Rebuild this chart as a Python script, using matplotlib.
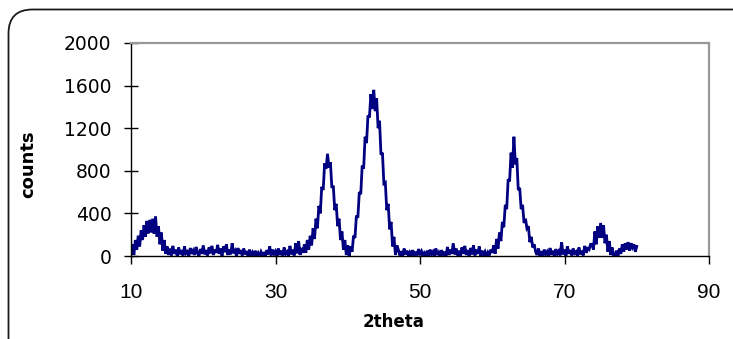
import numpy as np
import matplotlib
matplotlib.use("Agg")
import matplotlib.pyplot as plt
from matplotlib.patches import FancyBboxPatch
from matplotlib.transforms import IdentityTransform

STEP = 0.2  # 2theta step of the scan (degrees)

# Each segment: (start 2theta, counts every STEP degrees)
hump_13 = (10.0, [20, 110, 10, 150, 60, 190, 90, 240, 150, 290, 180, 330, 210, 340,
                  220, 350, 210, 370, 180, 280, 110, 220, 50, 150, 20, 90])
bg_15_34 = (15.2, [10, 70, 5, 95,
                   20, 60, 0, 80, 15,
                   55, 5, 90, 25, 40,
                   0, 75, 20, 50, 10,
                   85, 30, 0, 65, 20,
                   100, 15, 55, 5, 80,
                   25, 95, 10, 60, 30,
                   105, 20, 70, 0, 90,
                   35, 110, 10, 60, 15,
                   120, 25, 50, 0, 75,
                   20, 55, 5, 70, 15,
                   45, 0, 60, 10, 35,
                   0, 50, 5, 30, 0,
                   40, 10, 25, 0, 55,
                   15, 90, 5, 60, 20,
                   45, 0, 70, 10, 50,
                   5, 80, 20, 40, 0,
                   95, 15, 60, 5, 120,
                   25, 140, 10, 75, 30,
                   110])
peak_37 = (34.2, [30, 150, 60, 190, 100, 260, 160, 350, 260, 470, 400, 650, 620, 870,
                  820, 960, 830, 880, 640, 660, 430, 490, 280, 350, 150, 230, 60, 150,
                  10, 100, 0, 90])
peak_43 = (40.6, [40, 190, 170, 380, 360, 600, 580, 850, 820, 1120, 1060, 1320, 1300,
                  1520, 1380, 1560, 1360, 1480, 1200, 1270, 950, 970, 680, 690, 430,
                  490, 250, 320, 90, 180, 10, 100])
bg_47_60 = (47.0, [60, 5, 45, 0, 70,
                   15, 50, 0, 35, 10,
                   55, 0, 40, 5, 65,
                   20, 45, 0, 30, 10,
                   50, 0, 60, 15, 40,
                   0, 70, 10, 35, 0,
                   55, 5, 40, 0, 85,
                   10, 60, 20, 120, 15,
                   70, 5, 50, 0, 80,
                   20, 95, 10, 55, 0,
                   75, 15, 100, 5, 60,
                   20, 90, 0, 50, 10,
                   40, 0, 35, 10, 60,
                   30])
peak_63 = (60.2, [100, 20, 160, 70, 220, 140, 320, 270, 480, 440, 720, 700, 970, 830,
                  1120, 860, 920, 620, 640, 440, 480, 310, 350, 260, 280, 130, 180, 80,
                  110, 40])
bg_66_73 = (66.2, [10, 70, 0, 45,
                   5, 60, 15, 40, 0,
                   75, 10, 50, 0, 65,
                   20, 45, 5, 130, 15,
                   60, 0, 90, 20, 55,
                   5, 70, 25, 40, 0,
                   80, 15, 50, 5, 95,
                   30, 70, 60, 110])
peak_75 = (73.8, [110, 60, 230, 110, 280, 170, 310, 170, 290, 120, 200, 40, 140, 10,
                  80, 0])
bg_77_80 = (77.0, [5, 50, 0, 70, 20, 110, 40, 120, 60, 130, 50, 120, 80, 110, 40, 90])

segments = [hump_13, bg_15_34, peak_37, peak_43, bg_47_60, peak_63, bg_66_73,
            peak_75, bg_77_80]

x_ticks = [10, 30, 50, 70, 90]
y_ticks = [0, 400, 800, 1200, 1600, 2000]
x_label = "2theta"
y_label = "counts"

two_theta = np.concatenate([s + STEP * np.arange(len(v)) for s, v in segments])
counts = np.concatenate([np.asarray(v, float) for _, v in segments])

W, H = 733, 339
fig = plt.figure(figsize=(W / 100, H / 100), dpi=100)
ax = fig.add_axes([131 / W, (H - 256) / H, (709 - 131) / W, (256 - 43) / H])

ax.plot(two_theta, counts, color="#000080", lw=2.0, solid_joinstyle="miter")
ax.set_xlim(10, 90)
ax.set_ylim(0, 2000)
ax.set_xticks(x_ticks)
ax.set_yticks(y_ticks)

for side in ("top", "right"):
    ax.spines[side].set_color("#999999")
    ax.spines[side].set_linewidth(1.6)
for side in ("left", "bottom"):
    ax.spines[side].set_color("black")
    ax.spines[side].set_linewidth(1.0)
ax.spines["bottom"].set_zorder(3)

ax.tick_params(axis="y", direction="inout", length=10, width=1.0, pad=9,
               labelsize=13.5, labelfontfamily="DejaVu Sans")
ax.tick_params(axis="x", direction="out", length=5.5, width=1.0, pad=14,
               labelsize=15, labelfontfamily="Liberation Sans")

fig.text(394 / W, 1 - 322 / H, x_label, ha="center", va="center",
         fontsize=12, fontweight="bold", family="DejaVu Sans")
fig.text(28 / W, 1 - 164 / H, y_label, ha="center", va="center", rotation=90,
         fontsize=13, fontweight="bold", family="DejaVu Sans")

border = FancyBboxPatch((8.5, -30), W + 30, H + 30 - 9.5,
                        boxstyle="round,pad=0,rounding_size=24",
                        transform=IdentityTransform(), facecolor="none",
                        edgecolor="#1a1a1a", lw=1.3, clip_on=False)
fig.patches.append(border)

fig.savefig("out.png", dpi=100)
